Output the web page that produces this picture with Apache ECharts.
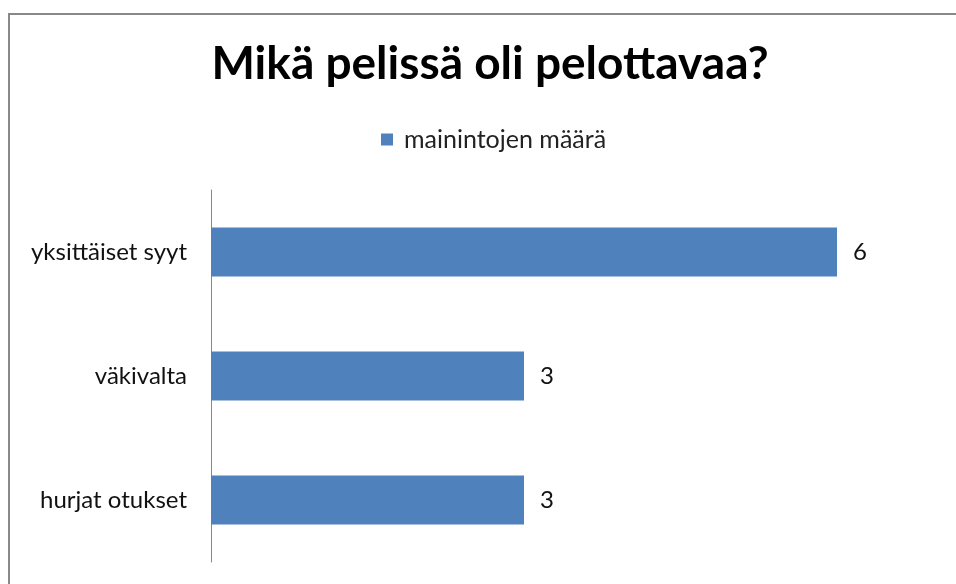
<!DOCTYPE html>
<html>
<head>
<meta charset="utf-8">
<script src="https://cdn.jsdelivr.net/npm/echarts@6/dist/echarts.min.js"></script>
<style>
  html, body { margin: 0; padding: 0; background: #fff; }
</style>
</head>
<body>
<div id="main" style="width: 956px; height: 584px;"></div>
<script>
// kategoriat alhaalta ylös (ECharts piirtää category-akselin alhaalta)
const categories = ['hurjat otukset', 'väkivalta', 'yksittäiset syyt'];
const counts = [3, 3, 6];
const seriesName = 'mainintojen määrä';

const myChart = echarts.init(document.getElementById('main'));
const font = 'Lato, "Open Sans", sans-serif';

const option = {
  animation: false,
  backgroundColor: '#fff',
  title: {
    text: 'Mikä pelissä oli pelottavaa?',
    left: 485,
    textAlign: 'center',
    top: 36,
    textStyle: {
      color: '#000',
      fontFamily: font,
      fontWeight: 'bold',
      fontSize: 46
    }
  },
  legend: {
    data: [seriesName],
    left: 376,
    top: 122,
    icon: 'rect',
    itemWidth: 12,
    itemHeight: 12,
    itemGap: 6,
    textStyle: {
      color: '#222',
      fontFamily: font,
      fontSize: 25,
      padding: [0, 0, 0, 6]
    }
  },
  graphic: [
    {
      type: 'rect',
      shape: { x: 9, y: 14, width: 1000, height: 620 },
      style: { fill: 'none', stroke: '#888', lineWidth: 2 },
      silent: true
    }
  ],
  grid: {
    left: 211,
    right: 119,
    top: 190,
    bottom: 22,
    containLabel: false
  },
  xAxis: {
    type: 'value',
    min: 0,
    max: 6,
    show: false
  },
  yAxis: {
    type: 'category',
    data: categories,
    axisLine: { show: true, lineStyle: { color: '#888', width: 1 } },
    axisTick: { show: false },
    axisLabel: {
      margin: 24,
      color: '#111',
      fontFamily: font,
      fontSize: 24
    }
  },
  series: [
    {
      name: seriesName,
      type: 'bar',
      data: counts,
      barWidth: 49,
      itemStyle: { color: '#4f81bd' },
      label: {
        show: true,
        position: 'right',
        distance: 16,
        color: '#111',
        fontFamily: font,
        fontSize: 24
      }
    }
  ]
};
myChart.setOption(option);
</script>
</body>
</html>
